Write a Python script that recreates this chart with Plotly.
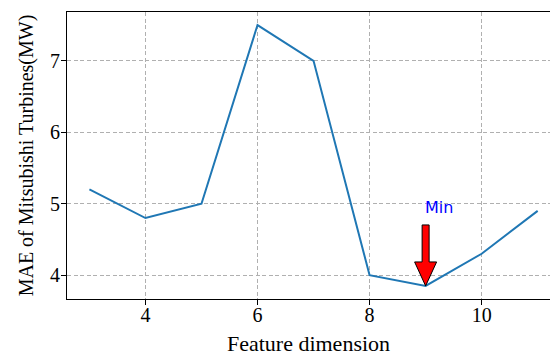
import plotly.graph_objects as go

feature_dim = [3, 4, 5, 6, 7, 8, 9, 10, 11]
mae = [5.2, 4.8, 5.0, 7.5, 7.0, 4.0, 3.85, 4.3, 4.9]
x_ticks = [4, 6, 8, 10]
y_ticks = [4, 5, 6, 7]

imin = mae.index(min(mae))
xmin, ymin = feature_dim[imin], mae[imin]

fig = go.Figure()
fig.add_trace(go.Scatter(x=feature_dim, y=mae, mode="lines",
                         line=dict(color="#1f77b4", width=2), showlegend=False))

# arrow pointing at min (pixel-sized path anchored at min point)
arrow = "M -3.5 61 L 3.5 61 L 3.5 24 L 11 24 L 0 0 L -11 24 L -3.5 24 Z"
fig.add_shape(type="path", xref="x", yref="y", xsizemode="pixel", ysizemode="pixel",
              xanchor=xmin, yanchor=ymin, path=arrow,
              fillcolor="red", line=dict(color="black", width=1))
fig.add_annotation(x=xmin, y=4.9, text="Min", showarrow=False, xanchor="left",
                   yanchor="bottom", yshift=-8, xshift=-3,
                   font=dict(family="DejaVu Sans", size=16, color="blue"))

serif = "Liberation Serif"
fig.update_layout(
    width=550, height=358, margin=dict(l=67, r=0, t=12, b=59),
    plot_bgcolor="white", paper_bgcolor="white",
    font=dict(family=serif, color="black"),
)
grid = dict(showgrid=True, gridcolor="#b0b0b0", griddash="4px,2.5px", gridwidth=1, zeroline=False)
fig.update_xaxes(range=[2.6, 11.22], tickvals=x_ticks, ticks="outside", ticklen=5,
                 tickcolor="black", tickfont=dict(size=20, family=serif), ticklabelstandoff=-7,
                 showline=True, linecolor="black", linewidth=1.2, mirror=True,
                 title=dict(text="Feature dimension", font=dict(size=22, family=serif), standoff=10),
                 **grid)
fig.update_yaxes(range=[3.6675, 7.6825], tickvals=y_ticks, ticks="outside", ticklen=5,
                 tickcolor="black", tickfont=dict(size=20, family=serif), ticklabelstandoff=-3,
                 showline=True, linecolor="black", linewidth=1.2, mirror=False,
                 title=dict(text="MAE of Mitsubishi Turbines(MW)", font=dict(size=20, family=serif), standoff=10),
                 **grid)
fig.write_html("out.html")
